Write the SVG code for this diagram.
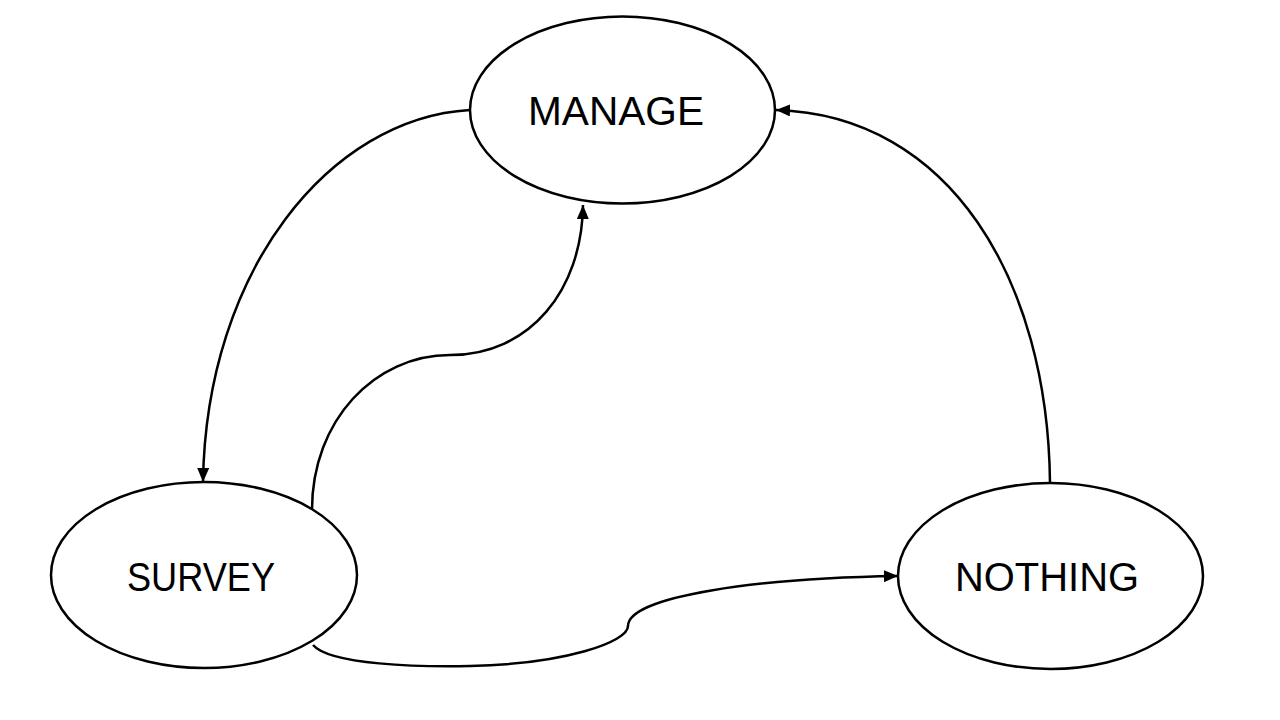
<svg xmlns="http://www.w3.org/2000/svg" width="1280" height="720" viewBox="0 0 1280 720">
  <defs>
    <marker id="arrow" viewBox="0 0 14 12" refX="14" refY="6" markerWidth="14" markerHeight="12" markerUnits="userSpaceOnUse" orient="auto">
      <path d="M0,0 L14,6 L0,12 Z" fill="#000"/>
    </marker>
  </defs>
  <style>
    .node ellipse { fill: #fff; stroke: #000; stroke-width: 2.5; }
    .node text { font-family: "Liberation Sans", Arial, sans-serif; font-size: 41px; fill: #000; text-anchor: middle; }
    .edge { fill: none; stroke: #000; stroke-width: 2.5; marker-end: url(#arrow); }
  </style>
  <rect width="1280" height="720" fill="#fff"/>

  <g id="connectors">
    <!-- MANAGE -> SURVEY -->
    <path class="edge" d="M470,110 C 330,118 206,270 203,482"/>
    <!-- SURVEY -> MANAGE -->
    <path class="edge" d="M312,510 C 312,420 375,355 450,355 C 530,355 582,290 583,205"/>
    <!-- SURVEY -> NOTHING -->
    <path class="edge" d="M313,645 C 330,665 420,667 470,666 C 565,664 628,642 628,626 C 628,596 760,578 898,576"/>
    <!-- NOTHING -> MANAGE -->
    <path class="edge" d="M1050,483 C 1048,280 950,115 776,110"/>
  </g>

  <g id="manage" class="node">
    <ellipse cx="622.5" cy="110" rx="152.5" ry="93.5"/>
    <text x="616" y="125" textLength="176" lengthAdjust="spacingAndGlyphs">MANAGE</text>
  </g>
  <g id="survey" class="node">
    <ellipse cx="204" cy="575" rx="153" ry="93"/>
    <text x="201" y="591" textLength="148" lengthAdjust="spacingAndGlyphs">SURVEY</text>
  </g>
  <g id="nothing" class="node">
    <ellipse cx="1050.5" cy="576" rx="152.5" ry="93"/>
    <text x="1047" y="591" textLength="184" lengthAdjust="spacingAndGlyphs">NOTHING</text>
  </g>
</svg>
